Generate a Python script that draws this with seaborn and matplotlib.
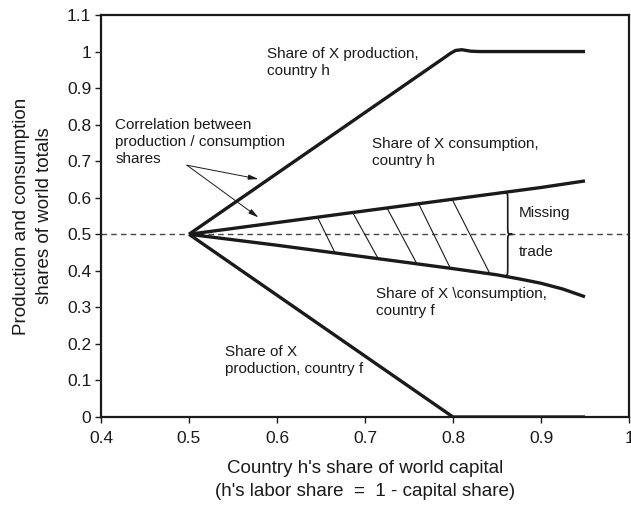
import numpy as np
import pandas as pd
import matplotlib
matplotlib.use("Agg")
import matplotlib.pyplot as plt
import seaborn as sns
from matplotlib.path import Path
from matplotlib.patches import PathPatch

# ---- data ----
prod_h_x = [0.5, 0.79, 0.797, 0.803, 0.81, 0.82, 0.83, 0.95]
prod_h_y = [0.5, 0.983, 0.995, 1.003, 1.005, 1.001, 1.0, 1.0]

prod_f_x = [0.5, 0.8, 0.95]
prod_f_y = [0.5, 0.0, 0.0]

cons_h_x = [0.5, 0.6, 0.7, 0.8, 0.9, 0.95]
cons_h_y = [0.5, 0.532, 0.564, 0.596, 0.628, 0.646]

cons_f_x = [0.5, 0.6, 0.7, 0.8, 0.85, 0.875, 0.9, 0.925, 0.95]
cons_f_y = [0.5, 0.47, 0.438, 0.406, 0.389, 0.378, 0.366, 0.35, 0.329]

hatch_top_x = [0.646, 0.686, 0.725, 0.761, 0.799]
hatch_bot_x = [0.666, 0.715, 0.759, 0.797, 0.842]

x_ticks = [0.4, 0.5, 0.6, 0.7, 0.8, 0.9, 1.0]
x_tick_labels = ["0.4", "0.5", "0.6", "0.7", "0.8", "0.9", "1"]
y_ticks = [0, 0.1, 0.2, 0.3, 0.4, 0.5, 0.6, 0.7, 0.8, 0.9, 1.0, 1.1]
y_tick_labels = ["0", "0.1", "0.2", "0.3", "0.4", "0.5", "0.6", "0.7", "0.8", "0.9", "1", "1.1"]

sns.set_style("white")
plt.rcParams['font.family'] = ['Liberation Sans', 'DejaVu Sans']

fig = plt.figure(figsize=(6.31, 5.09), dpi=100)
ax = fig.add_axes([101/631, 1 - 417/509, (629-101)/631, (417-15)/509])

ink = "#1a1a1a"
ax.axhline(0.5, color="#444444", lw=1.0, ls=(0, (4, 3)), zorder=1)

for xs, ys in [(prod_h_x, prod_h_y), (prod_f_x, prod_f_y), (cons_h_x, cons_h_y), (cons_f_x, cons_f_y)]:
    df = pd.DataFrame({"x": xs, "y": ys})
    sns.lineplot(data=df, x="x", y="y", ax=ax, color=ink, lw=2.4, sort=False,
                 estimator=None, solid_joinstyle="round", solid_capstyle="butt", zorder=3)

# hatch lines between consumption curves
for xt, xb in zip(hatch_top_x, hatch_bot_x):
    yt = np.interp(xt, cons_h_x, cons_h_y)
    yb = np.interp(xb, cons_f_x, cons_f_y)
    ax.plot([xt, xb], [yt, yb], color=ink, lw=0.8, zorder=2)

# curly brace
x0, w = 0.8565, 0.011
yt_b = np.interp(x0, cons_h_x, cons_h_y)
yb_b = np.interp(x0, cons_f_x, cons_f_y)
ym = 0.5
r = 0.024
xm = x0 + 0.0057
xt_ = x0 + w
verts = [(x0, yt_b), (xm, yt_b), (xm, yt_b), (xm, yt_b - r),
         (xm, ym + r),
         (xm, ym), (xm, ym), (xt_, ym),
         (xm, ym), (xm, ym), (xm, ym - r),
         (xm, yb_b + r),
         (xm, yb_b), (xm, yb_b), (x0, yb_b)]
codes = [Path.MOVETO, Path.CURVE4, Path.CURVE4, Path.CURVE4,
         Path.LINETO,
         Path.CURVE4, Path.CURVE4, Path.CURVE4,
         Path.CURVE4, Path.CURVE4, Path.CURVE4,
         Path.LINETO,
         Path.CURVE4, Path.CURVE4, Path.CURVE4]
ax.add_patch(PathPatch(Path(verts, codes), fill=False, color=ink, lw=1.2, zorder=3))

fs = 11
tc = "#1a1a1a"
ls_ = 1.25
ax.text(0.589, 1.012, "Share of X production,\ncountry h", fontsize=fs, color=tc, va="top", ha="left", linespacing=ls_)
ax.text(0.416, 0.818, "Correlation between\nproduction / consumption\nshares", fontsize=fs, color=tc, va="top", ha="left", linespacing=ls_)
ax.text(0.7075, 0.765, "Share of X consumption,\ncountry h", fontsize=fs, color=tc, va="top", ha="left", linespacing=ls_)
ax.text(0.712, 0.355, "Share of X \\consumption,\ncountry f", fontsize=fs, color=tc, va="top", ha="left", linespacing=ls_)
ax.text(0.541, 0.197, "Share of X\nproduction, country f", fontsize=fs, color=tc, va="top", ha="left", linespacing=ls_)
ax.text(0.875, 0.558, "Missing", fontsize=fs, color=tc, va="center", ha="left")
ax.text(0.875, 0.452, "trade", fontsize=fs, color=tc, va="center", ha="left")

for tx, ty in [(0.579, 0.651), (0.579, 0.546)]:
    ax.annotate("", xy=(tx, ty), xytext=(0.4976, 0.689),
                arrowprops=dict(arrowstyle="-|>,head_length=0.6,head_width=0.15",
                                color=ink, lw=0.7, shrinkA=0, shrinkB=0))

ax.set_xlim(0.4, 1.0)
ax.set_ylim(0, 1.1)
ax.set_xticks(x_ticks)
ax.set_xticklabels(x_tick_labels)
ax.set_yticks(y_ticks)
ax.set_yticklabels(y_tick_labels)
ax.tick_params(axis="both", direction="out", length=4, width=1, color=ink,
               labelsize=12.5, labelcolor=tc, bottom=True, left=True)
ax.tick_params(axis="x", pad=6)
ax.tick_params(axis="y", pad=3)
for s in ax.spines.values():
    s.set_visible(True)
    s.set_color(ink)
    s.set_linewidth(1.6)

ax.set_xlabel("Country h's share of world capital\n(h's labor share  =  1 - capital share)",
              fontsize=13.5, color=tc, labelpad=10, linespacing=1.5)
ax.set_ylabel("Production and consumption\nshares of world totals",
              fontsize=13.5, color=tc, labelpad=10, linespacing=1.5)

fig.savefig("out.png", dpi=100)
